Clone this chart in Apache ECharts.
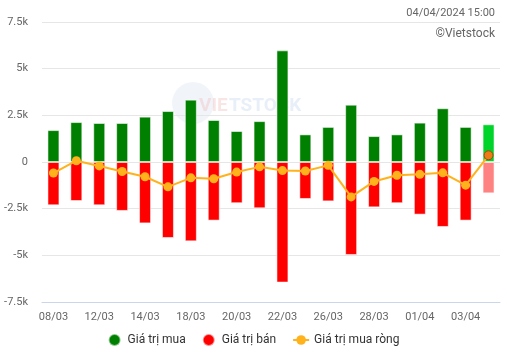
<!DOCTYPE html>
<html>
<head>
<meta charset="utf-8">
<script src="https://cdn.jsdelivr.net/npm/echarts@6/dist/echarts.min.js"></script>
<style>
html,body{margin:0;padding:0;background:#fff;}
#chart{width:507px;height:358px;}
</style>
</head>
<body>
<div id="chart"></div>
<script>
var categories = ['08/03','11/03','12/03','13/03','14/03','15/03','18/03','19/03','20/03','21/03','22/03','25/03','26/03','27/03','28/03','29/03','01/04','02/04','03/04','04/04'];
var buyValues  = [1710, 2140, 2090, 2090, 2430, 2730, 3340, 2250, 1660, 2190, 5980, 1480, 1880, 3070, 1390, 1480, 2110, 2880, 1880, 2020];
var sellValues = [-2320, -2090, -2320, -2620, -3290, -4070, -4250, -3140, -2210, -2480, -6460, -1980, -2110, -4980, -2430, -2210, -2820, -3480, -3140, -1680];
var netValues  = [-590, 70, -210, -510, -790, -1330, -850, -900, -540, -260, -460, -480, -180, -1870, -1040, -710, -660, -580, -1240, 360];
var yTicks = [-7500, 2500, 7500];

var last = categories.length - 1;
var buyData = buyValues.map(function(v,i){
  return i === last ? {value:v, itemStyle:{color:'#00d42a'}} : v;
});
var sellData = sellValues.map(function(v,i){
  return i === last ? {value:v, itemStyle:{color:'#ff8282'}} : v;
});
var netData = netValues.map(function(v,i){
  return i === last ? {value:v, itemStyle:{color:'#ee7a16', borderColor:'#9a4a10', borderWidth:1}, symbolSize:9} : v;
});

var chart = echarts.init(document.getElementById('chart'));
var fontFam = 'Roboto, "Liberation Sans", sans-serif';
chart.setOption({
  animation:false,
  textStyle:{fontFamily:fontFam},
  graphic:[
    {type:'text', right:12, top:8, style:{text:'04/04/2024 15:00', fill:'#666', font:'11px '+fontFam, textAlign:'right'}},
    {type:'text', right:12, top:28, style:{text:'©Vietstock', fill:'#666', font:'12px '+fontFam, textAlign:'right'}},
    {type:'circle', left:172, top:82, z:-1, shape:{r:21}, style:{fill:'rgba(190,210,230,0.22)'}},
    {type:'text', left:199, top:97, z:-1, style:{text:'VIE', fill:'rgba(240,170,170,0.3)', font:'bold 19px '+fontFam}},
    {type:'text', left:229, top:97, z:-1, style:{text:'TSTOCK', fill:'rgba(190,210,235,0.35)', font:'bold 19px '+fontFam}}
  ],
  grid:{left:42, right:7, top:22, bottom:56},
  legend:{
    bottom:6, left:'center', itemGap:16, itemWidth:16, itemHeight:12,
    textStyle:{color:'#333', fontSize:12, fontFamily:fontFam},
    data:[
      {name:'Giá trị mua', icon:'circle'},
      {name:'Giá trị bán', icon:'circle'},
      {name:'Giá trị mua ròng'}
    ]
  },
  xAxis:{
    type:'category', data:categories,
    axisLine:{onZero:false, lineStyle:{color:'#ccd6eb'}},
    axisTick:{show:false},
    axisLabel:{interval:1, color:'#666', fontSize:11, margin:10}
  },
  yAxis:{
    type:'value', min:yTicks[0], max:yTicks[2], interval:yTicks[1],
    axisLine:{show:false}, axisTick:{show:false},
    splitLine:{lineStyle:{color:'#e6e6e6'}},
    axisLabel:{color:'#666', fontSize:11, margin:14, formatter:function(v){ return v===0 ? '0' : (v/1000)+'k'; }}
  },
  series:[
    {name:'Giá trị mua', type:'bar', stack:'a', data:buyData, barWidth:12,
     itemStyle:{color:'#008000', borderColor:'rgba(255,255,255,0.55)', borderWidth:1}},
    {name:'Giá trị bán', type:'bar', stack:'a', data:sellData, barWidth:12,
     itemStyle:{color:'#ff0000', borderColor:'rgba(255,255,255,0.55)', borderWidth:1}},
    {name:'Giá trị mua ròng', type:'line', data:netData, symbol:'circle', symbolSize:9,
     lineStyle:{color:'#ffb21c', width:2}, itemStyle:{color:'#ffb21c'}, z:5}
  ]
});
</script>
</body>
</html>
